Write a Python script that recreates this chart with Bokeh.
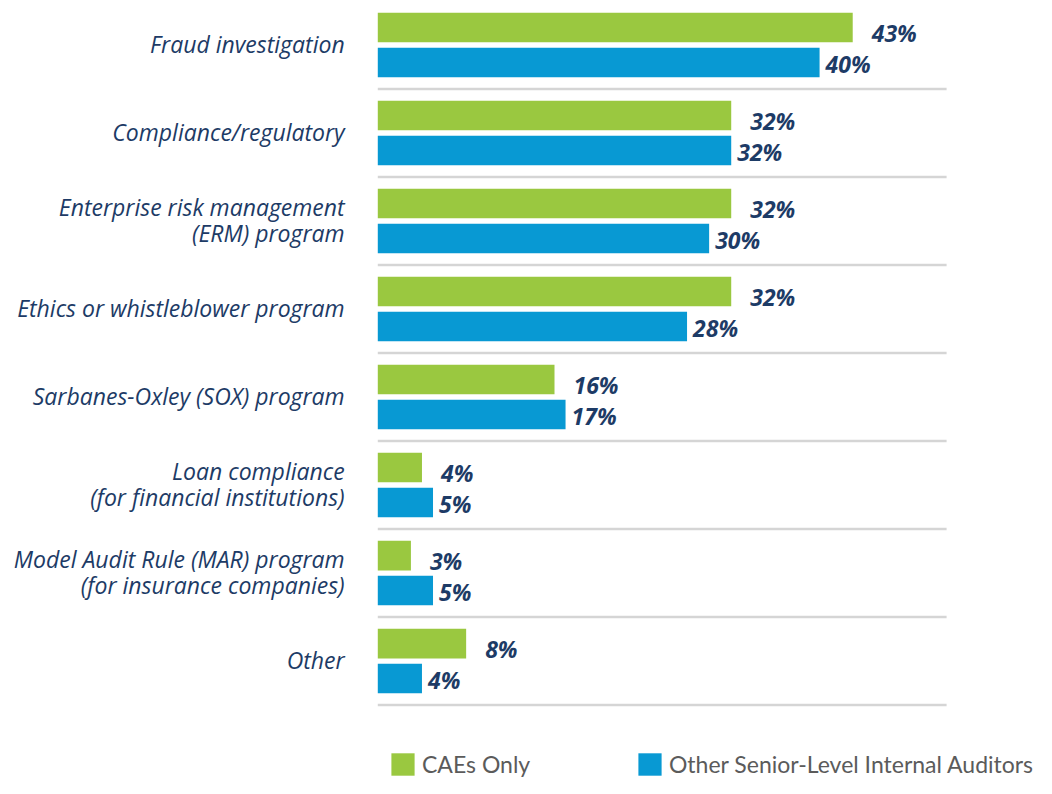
import numpy as np
from bokeh.plotting import figure
from bokeh.models import Range1d, ColumnDataSource, Legend, LegendItem
from bokeh.core.properties import value
from bokeh.embed import file_html
from bokeh.resources import INLINE

# ---- data ----
categories = [
    "Fraud investigation",
    "Compliance/regulatory",
    "Enterprise risk management\n(ERM) program",
    "Ethics or whistleblower program",
    "Sarbanes-Oxley (SOX) program",
    "Loan compliance\n(for financial institutions)",
    "Model Audit Rule (MAR) program\n(for insurance companies)",
    "Other",
]
caes_only = [43, 32, 32, 32, 16, 4, 3, 8]
other_senior = [40, 32, 30, 28, 17, 5, 5, 4]
series_names = ["CAEs Only", "Other Senior-Level Internal Auditors"]

# ---- styles ----
GREEN = "#9ac840"
BLUE = "#0899d3"
NAVY = "#1d3b66"
GRAY_TXT = "#5b5b5b"
SEP = "#d5d5d5"
CAT_FONT = "Open Sans"
VAL_FONT = "Open Sans"
LEG_FONT = "Lato"

idx = np.arange(len(categories))
bar_off = 0.198
bar_h = 0.336

src_g = ColumnDataSource(dict(
    y=idx - bar_off, v=caes_only, t=[f"{v}%" for v in caes_only]))
src_b = ColumnDataSource(dict(
    y=idx + bar_off, v=other_senior, t=[f"{v}%" for v in other_senior]))
src_c = ColumnDataSource(dict(y=idx.astype(float), t=categories))
src_s = ColumnDataSource(dict(y=idx + 0.5))

p = figure(
    width=1036, height=778,
    x_range=Range1d(-34.16, 59.64),
    y_range=Range1d(8.335, -0.5057),
    output_backend="svg", toolbar_location=None,
    x_axis_location=None, y_axis_location=None,
    min_border=0, min_border_left=0, min_border_right=0,
    min_border_top=0, min_border_bottom=0,
)
p.outline_line_color = None
p.xgrid.visible = False
p.ygrid.visible = False
p.background_fill_color = "white"
p.border_fill_color = "white"

# separators
p.segment(x0=0, x1=51.5, y0="y", y1="y", source=src_s,
          line_color=SEP, line_width=2.5)

rg = p.hbar(y="y", right="v", left=0, height=bar_h, source=src_g,
            fill_color=GREEN, line_color=None)
rb = p.hbar(y="y", right="v", left=0, height=bar_h, source=src_b,
            fill_color=BLUE, line_color=None)

# value labels
p.text(x="v", y="y", text="t", source=src_g, x_offset=19, y_offset=5,
       text_font=value(VAL_FONT), text_font_style="bold italic",
       text_font_size="23px", text_color=NAVY,
       text_align="left", text_baseline="middle")
p.text(x="v", y="y", text="t", source=src_b, x_offset=6, y_offset=2,
       text_font=value(VAL_FONT), text_font_style="bold italic",
       text_font_size="23px", text_color=NAVY,
       text_align="left", text_baseline="middle")

# category labels
p.text(x=-3.0, y="y", text="t", source=src_c, y_offset=-1,
       text_font=value(CAT_FONT), text_font_style="italic",
       text_font_size="23px", text_color=NAVY,
       text_align="right", text_baseline="middle", text_line_height=0.82)

# legends
for r, name, xloc in [(rg, series_names[0], 388), (rb, series_names[1], 635)]:
    lg = Legend(items=[LegendItem(label=name, renderers=[r])],
                location=(xloc, 0), orientation="horizontal",
                padding=0, margin=0, spacing=0,
                glyph_width=29, glyph_height=28, label_standoff=5,
                label_text_font=LEG_FONT, label_text_font_size="23px",
                label_text_color=GRAY_TXT, label_text_baseline="middle",
                border_line_color=None, background_fill_alpha=0)
    p.add_layout(lg)

open("out.html", "w").write(file_html(p, INLINE))
